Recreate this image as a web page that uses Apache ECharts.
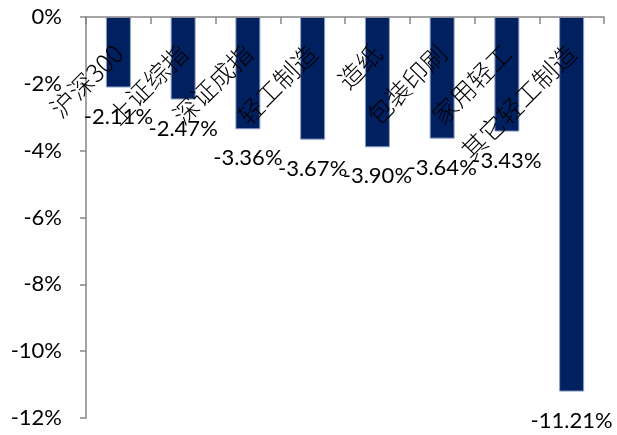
<!DOCTYPE html>
<html><head><meta charset="utf-8">
<script src="https://cdn.jsdelivr.net/npm/echarts@6/dist/echarts.min.js"></script>
<style>html,body{margin:0;padding:0;background:#fff}#c{width:617px;height:435px}</style>
</head><body><div id="c"></div>
<script>
var categories = ['沪深300', '上证综指', '深证成指', '轻工制造', '造纸', '包装印刷', '家用轻工', '其它轻工制造'];
var values = [-2.11, -2.47, -3.36, -3.67, -3.90, -3.64, -3.43, -11.21];
var yTicks = { min: -12, max: 0, interval: 2 };

var chart = echarts.init(document.getElementById('c'));
chart.setOption({
  animation: false,
  grid: { left: 86, right: 13, top: 17, bottom: 17, containLabel: false },
  xAxis: {
    type: 'category',
    data: categories,
    position: 'bottom',
    offset: -401,
    z: 10,
    axisLine: { show: true, onZero: false, lineStyle: { color: '#868686', width: 1.5 } },
    axisTick: { show: true, length: 7, lineStyle: { color: '#868686', width: 1.5 } },
    axisLabel: {
      rotate: 45, margin: 32, interval: 0,
      fontFamily: 'Noto Sans CJK SC', fontSize: 25, fontWeight: 300, color: '#000'
    }
  },
  yAxis: {
    type: 'value', min: yTicks.min, max: yTicks.max, interval: yTicks.interval,
    axisLine: { show: true, lineStyle: { color: '#868686', width: 1.5 } },
    axisTick: { show: true, length: 6, lineStyle: { color: '#868686', width: 1.5 } },
    splitLine: { show: false },
    axisLabel: {
      formatter: function (v) { return v + '%'; },
      margin: 24, fontFamily: 'Lato', fontSize: 22, color: '#000'
    }
  },
  series: [{
    type: 'bar',
    z: 2,
    data: values,
    barWidth: 25,
    itemStyle: { color: '#002060', borderColor: '#8da2c6', borderWidth: 1 },
    label: {
      show: true, position: 'bottom', distance: 18,
      formatter: function (p) { return p.value.toFixed(2) + '%'; },
      fontFamily: 'Lato', fontSize: 22, color: '#000'
    }
  }]
});
</script></body></html>
